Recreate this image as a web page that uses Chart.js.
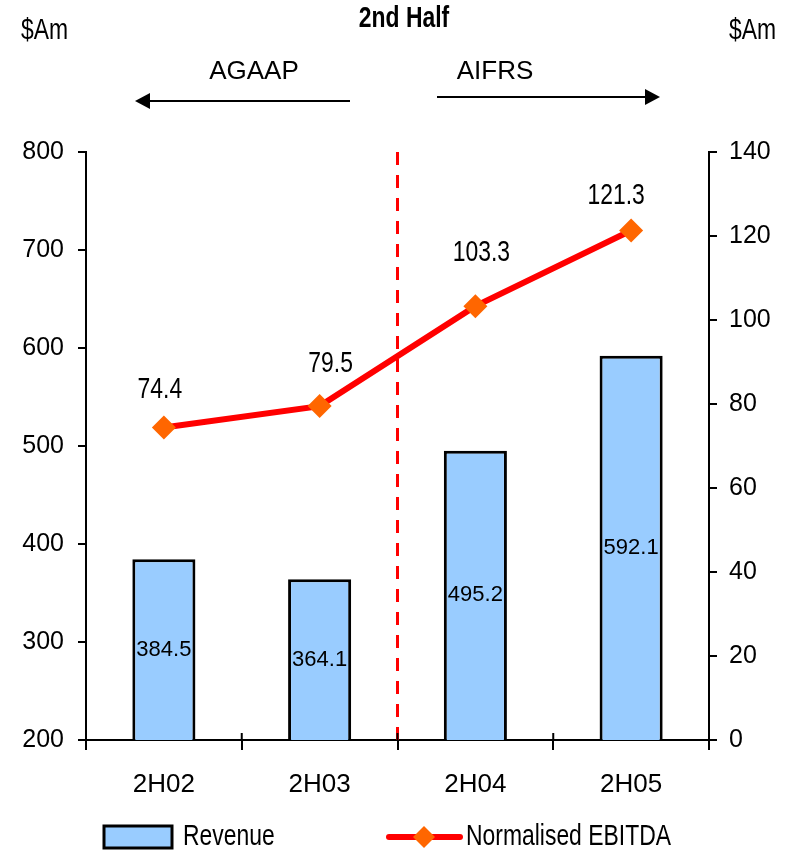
<!DOCTYPE html>
<html>
<head>
<meta charset="utf-8">
<script src="https://cdn.jsdelivr.net/npm/chart.js@4"></script>
<style>
  html, body { margin: 0; padding: 0; background: #fff; }
  canvas { display: block; }
</style>
</head>
<body>
<canvas id="chartHalf" width="792" height="851"></canvas>
<script>
// half-year periods and results ($Am)
const periods = ['2H02', '2H03', '2H04', '2H05'];
const revenue = [384.5, 364.1, 495.2, 592.1];
const ebitda = [74.4, 79.5, 103.3, 121.3];
const revenueTicks = [200, 300, 400, 500, 600, 700, 800];
const ebitdaTicks = [0, 20, 40, 60, 80, 100, 120, 140];

const ARIAL = '"Liberation Sans", Arial, sans-serif';

// nudges for the EBITDA labels, relative to each point
const ebitdaLabelShift = [[-4, -38], [11, -42], [6, -53], [-15, -35]];

// no narrow face installed, so squeeze the regular one
function narrowText(ctx, text, x, y, size, align, bold) {
    ctx.save();
    ctx.font = (bold ? 'bold ' : '') + size + 'px ' + ARIAL;
    ctx.textAlign = align;
    ctx.textBaseline = 'middle';
    ctx.translate(x, y);
    ctx.scale(0.79, 1);
    ctx.fillText(text, 0, 0);
    ctx.restore();
}

function arrow(ctx, x1, x2, y) {
    const dir = x2 > x1 ? 1 : -1;
    ctx.beginPath();
    ctx.moveTo(x1, y);
    ctx.lineTo(x2 - dir * 12, y);
    ctx.stroke();
    ctx.beginPath();
    ctx.moveTo(x2, y);
    ctx.lineTo(x2 - dir * 15, y - 8);
    ctx.lineTo(x2 - dir * 15, y + 8);
    ctx.closePath();
    ctx.fill();
}

const decorations = {
    id: 'decorations',
    beforeDatasetsDraw(chart) {
        const { ctx, chartArea, scales } = chart;
        // AGAAP / AIFRS divider
        const xDiv = (scales.x.getPixelForValue(1) + scales.x.getPixelForValue(2)) / 2;
        ctx.save();
        ctx.strokeStyle = '#FF0000';
        ctx.lineWidth = 3;
        ctx.setLineDash([13, 10]);
        ctx.beginPath();
        ctx.moveTo(xDiv, chartArea.top);
        ctx.lineTo(xDiv, chartArea.bottom);
        ctx.stroke();
        ctx.restore();
    },
    afterDraw(chart) {
        const { ctx, chartArea, scales } = chart;
        ctx.save();

        // category tick marks also poke up above the x axis
        const step = scales.x.getPixelForValue(1) - scales.x.getPixelForValue(0);
        ctx.strokeStyle = '#000';
        ctx.lineWidth = 2;
        for (let i = 0; i <= periods.length; i++) {
            const x = scales.x.getPixelForValue(0) - step / 2 + i * step;
            ctx.beginPath();
            ctx.moveTo(x, chartArea.bottom - 7);
            ctx.lineTo(x, chartArea.bottom);
            ctx.stroke();
        }

        // value labels inside the bars
        ctx.fillStyle = '#000';
        ctx.textAlign = 'center';
        ctx.textBaseline = 'middle';
        ctx.font = '22px ' + ARIAL;
        chart.getDatasetMeta(0).data.forEach((bar, i) => {
            const base = Math.min(bar.base, chartArea.bottom);
            ctx.fillText(revenue[i].toFixed(1), bar.x, (bar.y + base) / 2);
        });

        // value labels above the EBITDA points
        chart.getDatasetMeta(1).data.forEach((pt, i) => {
            const [dx, dy] = ebitdaLabelShift[i];
            narrowText(ctx, ebitda[i].toFixed(1), pt.x + dx, pt.y + dy, 29, 'center');
        });

        // headings
        narrowText(ctx, '2nd Half', 404, 19, 29, 'center', true);
        narrowText(ctx, '$Am', 21, 31, 29, 'left');
        narrowText(ctx, '$Am', 776, 31, 29, 'right');

        ctx.font = '26px ' + ARIAL;
        ctx.textAlign = 'center';
        ctx.fillText('AGAAP', 254, 72);
        ctx.fillText('AIFRS', 495, 72);

        ctx.lineWidth = 2;
        arrow(ctx, 350, 135, 101);
        arrow(ctx, 437, 660, 97);

        // legend
        const bars = chart.data.datasets[0];
        const line = chart.data.datasets[1];
        ctx.fillStyle = bars.backgroundColor;
        ctx.fillRect(104, 826, 68, 22);
        ctx.strokeStyle = '#000';
        ctx.lineWidth = 3;
        ctx.strokeRect(104, 826, 68, 22);
        ctx.fillStyle = '#000';
        narrowText(ctx, bars.label, 183, 837, 29, 'left');

        ctx.strokeStyle = line.borderColor;
        ctx.lineWidth = 6;
        ctx.lineCap = 'round';
        ctx.beginPath();
        ctx.moveTo(389, 837);
        ctx.lineTo(460, 837);
        ctx.stroke();
        ctx.fillStyle = line.pointBackgroundColor;
        ctx.beginPath();
        ctx.moveTo(424 - 11, 837);
        ctx.lineTo(424, 826);
        ctx.lineTo(424 + 11, 837);
        ctx.lineTo(424, 848);
        ctx.closePath();
        ctx.fill();
        ctx.fillStyle = '#000';
        narrowText(ctx, line.label, 466, 837, 29, 'left');

        ctx.restore();
    }
};

const axisLine = { color: '#000', width: 2 };
const outerTicks = { drawOnChartArea: false, color: '#000', lineWidth: 2, tickLength: 8 };

new Chart(document.getElementById('chartHalf'), {
    type: 'bar',
    data: {
        labels: periods,
        datasets: [
            {
                label: 'Revenue',
                data: revenue,
                yAxisID: 'y',
                backgroundColor: '#99CCFF',
                borderColor: '#000',
                borderWidth: 3,
                categoryPercentage: 1,
                barPercentage: 0.405,
                order: 2
            },
            {
                type: 'line',
                label: 'Normalised EBITDA',
                data: ebitda,
                yAxisID: 'y1',
                borderColor: '#FF0000',
                borderWidth: 6,
                pointStyle: 'rectRot',
                pointRadius: 12,
                pointBackgroundColor: '#FF6600',
                pointBorderColor: '#FF6600',
                pointBorderWidth: 0,
                tension: 0,
                order: 1
            }
        ]
    },
    options: {
        responsive: false,
        animation: false,
        layout: { padding: { top: 152, bottom: 51, left: 0, right: 0 } },
        plugins: {
            legend: { display: false },
            tooltip: { enabled: false }
        },
        scales: {
            x: {
                border: axisLine,
                grid: { drawOnChartArea: false, color: '#000', lineWidth: 2, tickLength: 10 },
                ticks: { color: '#000', padding: 19, font: { family: ARIAL, size: 26 } },
                afterFit(scale) { scale.height = 60; }
            },
            y: {
                position: 'left',
                min: revenueTicks[0],
                max: revenueTicks[revenueTicks.length - 1],
                border: axisLine,
                grid: outerTicks,
                afterBuildTicks(scale) { scale.ticks = revenueTicks.map(v => ({ value: v })); },
                ticks: { color: '#000', padding: 14, font: { family: ARIAL, size: 25 } },
                afterFit(scale) { scale.width = 86; }
            },
            y1: {
                position: 'right',
                min: ebitdaTicks[0],
                max: ebitdaTicks[ebitdaTicks.length - 1],
                border: axisLine,
                grid: outerTicks,
                afterBuildTicks(scale) { scale.ticks = ebitdaTicks.map(v => ({ value: v })); },
                ticks: { color: '#000', padding: 12, font: { family: ARIAL, size: 25 } },
                afterFit(scale) { scale.width = 83; }
            }
        }
    },
    plugins: [decorations]
});
</script>
</body>
</html>
